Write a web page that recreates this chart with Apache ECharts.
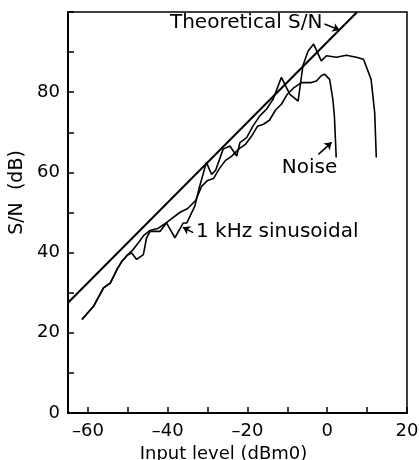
<!DOCTYPE html>
<html lang="en" style="height: 100%">
<head>
  <meta charset="UTF-8">
  <title>S/N vs input level</title>
  <script src="https://cdn.jsdelivr.net/npm/echarts@6/dist/echarts.min.js"></script>
</head>
<body style="height: 100%; margin: 0; background: #fff;">
  <div id="main" style="width: 419px; height: 460px;"></div>

  <script>
  // axis ticks and labels
  const xTickValues = [-60, -50, -40, -30, -20, -10, 0, 10, 20];
  const xLabelValues = [-60, -40, -20, 0, 20];

  // theoretical S/N straight line
  const theoryX = [-65, 7.5];
  const theoryY = [27.5, 100];

  // 1 kHz sinusoidal measurement
  const sineX = [-61.5, -58.6, -56.1, -54.4, -52.7, -51.5, -50.2, -49, -47.8, -46.1, -45.3, -44.4, -41.9, -40.3,
    -38.2, -36.1, -35.2, -33.2, -32, -30.3, -29, -28, -26.1, -24.4, -22.7, -21.9, -20.2, -18.6, -16.9, -15.2,
    -13.6, -11.5, -9.4, -7.3, -6.1, -4.8, -3.4, -1.5, -0.2, 2.3, 4.8, 7.3, 9.1, 11, 11.9, 12.3];
  const sineY = [23.3, 26.6, 31.2, 32.4, 35.8, 37.8, 39.3, 39.9, 38.3, 39.5, 43.7, 45.3, 45.3, 47.4,
    43.7, 47.4, 47.4, 51.6, 56.5, 62.5, 59.5, 60.5, 65.8, 66.6, 64.1, 67.4, 68.7, 71.6, 74.1, 75.8,
    78.2, 83.7, 79.5, 77.8, 86.6, 90.3, 92, 87.8, 89.1, 88.7, 89.2, 88.7, 88.2, 83.2, 74.9, 63.7];

  // noise measurement
  const noiseX = [-61.5, -58.6, -56.1, -54.4, -52.7, -51.5, -50.2, -48.8, -47.3, -46, -44.5, -42.5, -41, -39,
    -37, -35, -33, -31.5, -30, -28.5, -27, -25.5, -24, -22, -20.5, -19, -17.5, -16, -14.5, -13, -11.5, -10,
    -8.5, -6.5, -4, -2.7, -1.5, -0.7, 0.6, 1.4, 1.8, 2.25];
  const noiseY = [23.3, 26.6, 31.2, 32.4, 35.8, 37.8, 39.3, 40.6, 42.5, 44.3, 45.5, 46, 47, 48.5,
    50, 51, 53, 56.5, 58, 58.5, 61, 63, 64, 66, 67, 69, 71.5, 72, 73, 75.5, 77, 79.5,
    81, 82.4, 82.4, 82.8, 84.1, 84.5, 83.2, 78.3, 74, 63.7];

  // annotation texts, anchors and arrows (data coordinates)
  const noteTexts = ['Theoretical S/N', '1 kHz sinusoidal', 'Noise'];
  const noteX = [-1.2, -32.9, -11.4];
  const noteY = [97.2, 45.2, 61.2];
  const arrowFrom = [[-0.7, 97], [-33.6, 45], [-2.2, 64.5]];
  const arrowTo = [[3.1, 95.5], [-36.2, 46.3], [1.1, 67.5]];

  const zip = (xs, ys) => xs.map((x, i) => [x, ys[i]]);
  const font = 'DejaVu Sans';

  const chart = echarts.init(document.getElementById('main'));

  const option = {
    animation: false,
    backgroundColor: '#fff',
    grid: {
      left: 68, right: 12, top: 12, bottom: 47,
      show: true, borderColor: '#000', borderWidth: 1.5,
      containLabel: false, outerBoundsMode: 'none'
    },
    xAxis: {
      type: 'value',
      min: -65,
      max: 20,
      name: 'Input level (dBm0)',
      nameLocation: 'middle',
      nameGap: 25,
      nameTextStyle: { color: '#000', fontFamily: font, fontSize: 18, padding: [0, 28, 0, 0] },
      axisLine: { onZero: false, lineStyle: { color: '#000', width: 2 } },
      axisTick: { inside: true, length: 6, customValues: xTickValues, lineStyle: { color: '#000', width: 1.5 } },
      axisLabel: {
        customValues: xLabelValues,
        margin: 9,
        color: '#000', fontFamily: font, fontSize: 18,
        formatter: v => String(v).replace('-', '\u2013')
      },
      splitLine: { show: false }
    },
    yAxis: {
      type: 'value',
      min: 0,
      max: 100,
      interval: 10,
      name: 'S/N  (dB)',
      nameLocation: 'middle',
      nameRotate: 90,
      nameGap: 40,
      nameTextStyle: { color: '#000', fontFamily: font, fontSize: 19, padding: [0, 0, 0, 40] },
      axisLine: { onZero: false, lineStyle: { color: '#000', width: 2 } },
      axisTick: { inside: true, length: 6, lineStyle: { color: '#000', width: 1.5 } },
      axisLabel: {
        margin: 8,
        color: '#000', fontFamily: font, fontSize: 18,
        formatter: v => (v % 20 === 0 && v < 100 ? String(v) : '')
      },
      splitLine: { show: false }
    },
    series: [
      {
        name: 'Theoretical S/N',
        type: 'line',
        data: zip(theoryX, theoryY),
        showSymbol: false,
        lineStyle: { color: '#000', width: 2 }
      },
      {
        name: '1 kHz sinusoidal',
        type: 'line',
        data: zip(sineX, sineY),
        showSymbol: false,
        lineStyle: { color: '#000', width: 1.6 }
      },
      {
        name: 'Noise',
        type: 'line',
        data: zip(noiseX, noiseY),
        showSymbol: false,
        lineStyle: { color: '#000', width: 1.6 }
      },
      {
        type: 'scatter',
        symbolSize: 0,
        silent: true,
        itemStyle: { opacity: 1 },
        data: noteTexts.map((t, i) => ({
          value: [noteX[i], noteY[i]],
          label: {
            show: true,
            formatter: t,
            position: i === 0 ? 'left' : 'right',
            distance: 0,
            color: '#000',
            fontFamily: font,
            fontSize: 20
          }
        }))
      },
      {
        type: 'lines',
        coordinateSystem: 'cartesian2d',
        silent: true,
        symbol: ['none', 'arrow'],
        symbolSize: 7,
        lineStyle: { color: '#000', width: 1.5, opacity: 1 },
        data: arrowFrom.map((p, i) => ({ coords: [p, arrowTo[i]] }))
      }
    ]
  };

  chart.setOption(option);
  </script>
</body>
</html>
